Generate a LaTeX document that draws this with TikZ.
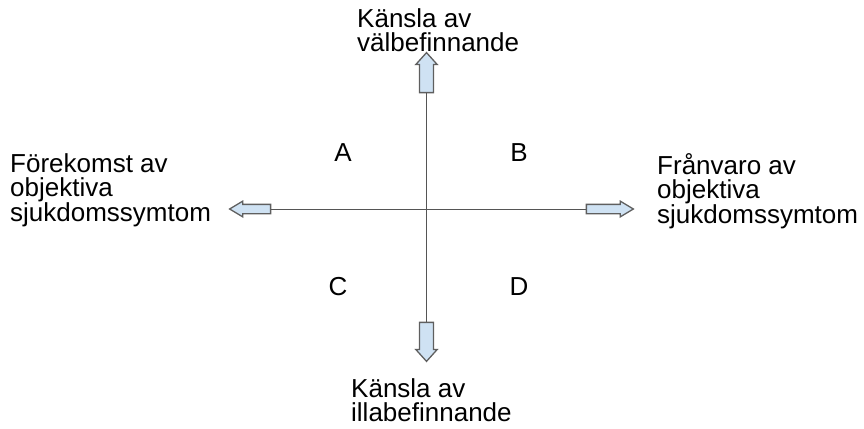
\documentclass[tikz,border=0pt]{standalone}
\usepackage{fontspec}
\setmainfont{Liberation Sans}
\usetikzlibrary{shapes.arrows}

\definecolor{arrowfill}{HTML}{CFE2F3}
\definecolor{arrowline}{HTML}{5F5F5F}
\definecolor{axisline}{HTML}{555555}

\tikzset{
  blockarrow/.style={shape=single arrow, draw=arrowline, fill=arrowfill,
    line width=1.3pt},
  vblock/.style={blockarrow, inner sep=6.3pt,
    single arrow head extend=3.7pt, single arrow tip angle=84},
  hblock/.style={blockarrow, inner sep=4pt,
    single arrow head extend=3.2pt, single arrow tip angle=62},
  label/.style={font=\fontsize{26}{24.5}\selectfont, inner sep=0pt, align=left},
  quadrant/.style={font=\fontsize{26}{26}\selectfont, inner sep=0pt}
}

\begin{document}
\begin{tikzpicture}[x=1pt, y=-1pt]
\useasboundingbox (0,0) rectangle (864,428);

% Block arrows at the ends of the axes
\node[vblock, minimum height=40pt, shape border rotate=90] (up) at (426.5,76.5) {};
\node[vblock, minimum height=39pt, shape border rotate=270] (down) at (426.5,338) {};
\node[hblock, minimum height=41pt, shape border rotate=180] (left) at (254,209) {};
\node[hblock, minimum height=47pt] (right) at (606,209) {};

% The two axes
\draw[axisline, line width=1pt] (up.tail) -- (down.tail);
\draw[axisline, line width=1pt] (left.tail) -- (right.tail);

% Labels
\node[label, anchor=north west] (well) at (357,8) {Känsla av\\välbefinnande};
\node[label, anchor=north west] (ill) at (351,378) {Känsla av\\illabefinnande};
\node[label, anchor=north west] (present) at (10,153) {Förekomst av\\objektiva\\sjukdomssymtom};
\node[label, anchor=north west] (absent) at (657,153) {Frånvaro av\\objektiva\\sjukdomssymtom};

% Quadrants
\node[quadrant] (qa) at (343,153) {A};
\node[quadrant] (qb) at (519,153) {B};
\node[quadrant] (qc) at (338,287) {C};
\node[quadrant] (qd) at (519,287) {D};
\end{tikzpicture}
\end{document}
